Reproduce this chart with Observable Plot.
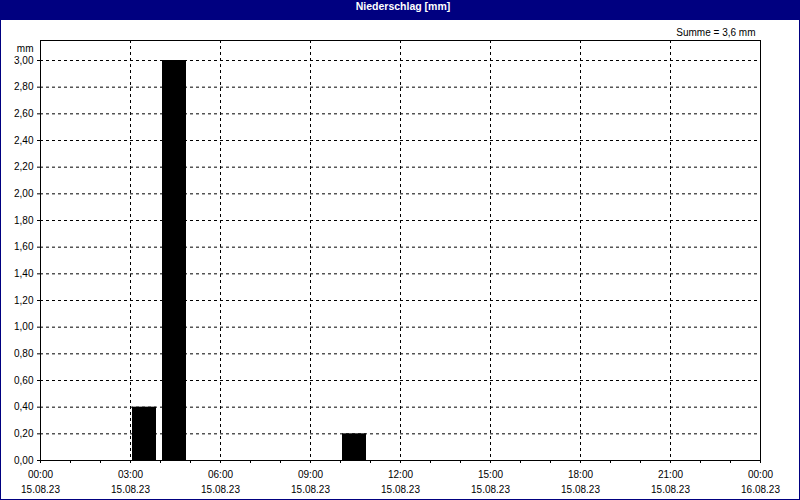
<!DOCTYPE html>
<html>
<head>
<meta charset="utf-8">
<script src="https://cdn.jsdelivr.net/npm/d3@7"></script>
<script src="https://cdn.jsdelivr.net/npm/@observablehq/plot@0.6"></script>
<style>
  html, body { margin: 0; padding: 0; background: #fff; }
  #wrap { width: 800px; height: 500px; box-sizing: border-box; border-left: 1px solid #000080; border-right: 1px solid #000080; border-bottom: 1px solid #000080; overflow: hidden; }
  #title { height: 20px; line-height: 20px; background: #000080; color: #fff; font: bold 10.5px "Liberation Sans", sans-serif; text-align: center; padding-left: 6px; }
  #chart svg { display: block; }
</style>
</head>
<body>
<div id="wrap">
  <div id="title">Niederschlag [mm]</div>
  <div id="chart"></div>
</div>
<script>
// Data
const barStarts = ["2023-08-15T03:00:00Z", "2023-08-15T04:00:00Z", "2023-08-15T10:00:00Z"];
const barValues = [0.4, 3.0, 0.2];
const xTickTimes = ["00:00", "03:00", "06:00", "09:00", "12:00", "15:00", "18:00", "21:00", "00:00"];
const xTickDates = ["15.08.23", "15.08.23", "15.08.23", "15.08.23", "15.08.23", "15.08.23", "15.08.23", "15.08.23", "16.08.23"];
const yTicks = [0, 0.2, 0.4, 0.6, 0.8, 1.0, 1.2, 1.4, 1.6, 1.8, 2.0, 2.2, 2.4, 2.6, 2.8, 3.0];
const sumLabel = "Summe = 3,6 mm";
const yUnit = "mm";

const H = 3600 * 1000;
const t0 = new Date("2023-08-15T00:00:00Z");
const t1 = new Date("2023-08-16T00:00:00Z");
const bars = barStarts.map((s, i) => {
  const a = new Date(s);
  return {start: a, end: new Date(+a + H), value: barValues[i]};
});
const majorTicks = xTickTimes.map((_, i) => new Date(+t0 + i * 3 * H));
const minorTicks = d3.utcHour.range(t0, new Date(+t1 + 1));
const fmtX = d => {
  const i = Math.round((d - t0) / (3 * H));
  return xTickTimes[i] + "\n" + xTickDates[i];
};
const fmtY = d => d3.format(".2f")(d).replace(".", ",");

const chart = Plot.plot({
  width: 798,
  height: 479,
  marginLeft: 39,
  marginRight: 39,
  marginTop: 20,
  marginBottom: 39,
  style: {fontFamily: "'Liberation Sans', sans-serif", fontSize: "10px", color: "#000", background: "#fff"},
  x: {type: "utc", domain: [t0, t1]},
  y: {domain: [0, 3.15]},
  marks: [
    Plot.gridX(majorTicks.slice(1, -1), {stroke: "#000", strokeOpacity: 1, strokeDasharray: "3,3"}),
    Plot.gridY(yTicks.slice(1), {stroke: "#000", strokeOpacity: 1, strokeDasharray: "3,3"}),
    Plot.rect(bars, {x1: "start", x2: "end", y1: 0, y2: "value", fill: "#000", insetLeft: 2, insetRight: 4}),
    Plot.frame({stroke: "#000"}),
    Plot.axisX(minorTicks, {tickSize: 3, text: null, label: null}),
    Plot.axisX(majorTicks, {tickSize: 3, tickPadding: 4, tickFormat: fmtX, lineHeight: 1.5, label: null}),
    Plot.axisY(yTicks, {tickSize: 3, tickPadding: 4, tickFormat: fmtY, label: null}),
    Plot.text([yUnit], {frameAnchor: "top-left", textAnchor: "end", dx: -7, dy: 4}),
    Plot.text([sumLabel], {frameAnchor: "top-right", textAnchor: "end", dx: -5, dy: -12})
  ]
});
document.getElementById("chart").appendChild(chart);
</script>
</body>
</html>
